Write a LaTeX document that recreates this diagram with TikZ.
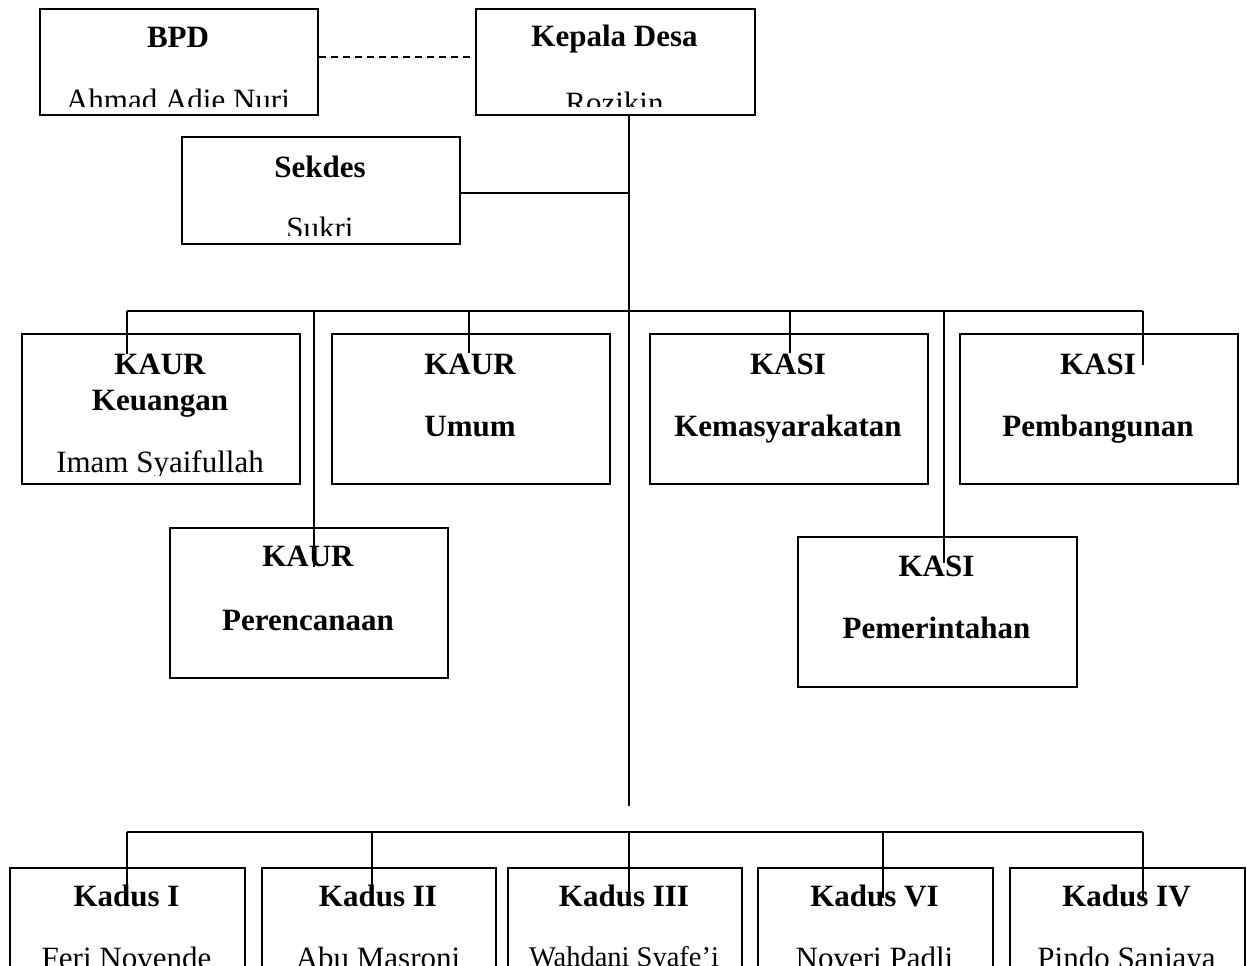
\documentclass[tikz,border=0pt]{standalone}
\usepackage{fontspec}
\setmainfont{Liberation Serif}
\usetikzlibrary{calc}
\begin{document}
\begin{tikzpicture}[x=1pt,y=-1pt,
  box/.style={draw, line width=2pt, inner sep=0pt, rectangle, anchor=north west},
  ttl/.style={font=\fontsize{31}{36}\selectfont\bfseries, anchor=base, inner sep=0pt},
  nm/.style={font=\fontsize{31}{36}\selectfont, anchor=base, inner sep=0pt},
  nmsmall/.style={font=\fontsize{28.5}{33}\selectfont, anchor=base, inner sep=0pt},
  conn/.style={line width=2pt},
  dline/.style={line width=2pt, dash pattern=on 7pt off 5pt}]
\useasboundingbox (0,0) rectangle (1247,966);
\clip (0,0) rectangle (1247,966);

% top boxes
\node[box, minimum width=278pt, minimum height=106pt] (bpd) at (39,8) {};
\node[box, minimum width=279pt, minimum height=106pt] (kades) at (475,8) {};
\node[box, minimum width=278pt, minimum height=107pt] (sekdes) at (181,136) {};
% middle boxes
\node[box, minimum width=278pt, minimum height=150pt] (keu) at (21,333) {};
\node[box, minimum width=278pt, minimum height=150pt] (umum) at (331,333) {};
\node[box, minimum width=278pt, minimum height=150pt] (kemas) at (649,333) {};
\node[box, minimum width=278pt, minimum height=150pt] (pemb) at (959,333) {};
\node[box, minimum width=278pt, minimum height=150pt] (peren) at (169,527) {};
\node[box, minimum width=279pt, minimum height=150pt] (pemer) at (797,536) {};
% bottom boxes
\node[box, minimum width=235pt, minimum height=150pt] (k1) at (9,867) {};
\node[box, minimum width=234pt, minimum height=150pt] (k2) at (261,867) {};
\node[box, minimum width=234pt, minimum height=150pt] (k3) at (507,867) {};
\node[box, minimum width=235pt, minimum height=150pt] (k6) at (757,867) {};
\node[box, minimum width=235pt, minimum height=150pt] (k4) at (1009,867) {};

% texts
\node[ttl] (bpdT) at (178,48) {BPD};
\begin{scope}
  \clip (bpd.north west) rectangle ([yshift=10pt]bpd.south east);
  \node[nm] (bpdN) at (178,110) {Ahmad Adie Nuri};
\end{scope}
\node[ttl] (kadesT) at (614.5,47) {Kepala Desa};
\begin{scope}
  \clip (kades.north west) rectangle ([yshift=10pt]kades.south east);
  \node[nm] (kadesN) at (614.5,113) {Rozikin};
\end{scope}
\node[ttl] (sekdesT) at (320,177) {Sekdes};
\begin{scope}
  \clip (sekdes.north west) rectangle ([yshift=10pt]sekdes.south east);
  \node[nm] (sekdesN) at (320,238.5) {Sukri};
\end{scope}

\node[ttl] (keuT1) at (160,374) {KAUR};
\node[ttl] (keuT2) at (160,410) {Keuangan};
\begin{scope}
  \clip (keu.north west) rectangle ([yshift=10pt]keu.south east);
  \node[nm] (keuN) at (160,472) {Imam Syaifullah};
\end{scope}
\node[ttl] (umumT1) at (470,374) {KAUR};
\node[ttl] (umumT2) at (470,436.5) {Umum};
\node[ttl] (kemasT1) at (788,374) {KASI};
\node[ttl] (kemasT2) at (788,436.5) {Kemasyarakatan};
\node[ttl] (pembT1) at (1098,374) {KASI};
\node[ttl] (pembT2) at (1098,436.5) {Pembangunan};
\node[ttl] (perenT1) at (308,566.5) {KAUR};
\node[ttl] (perenT2) at (308,630) {Perencanaan};
\node[ttl] (pemerT1) at (936.5,576) {KASI};
\node[ttl] (pemerT2) at (936.5,638) {Pemerintahan};

\node[ttl] (k1T) at (126.5,906.5) {Kadus I};
\node[nm] (k1N) at (126.5,968.5) {Feri Novende};
\node[ttl] (k2T) at (378,906.5) {Kadus II};
\node[nm] (k2N) at (378,968.5) {Abu Masroni};
\node[ttl] (k3T) at (624,906.5) {Kadus III};
\node[nmsmall] (k3N) at (624,966) {Wahdani Syafe’i};
\node[ttl] (k6T) at (874.5,906.5) {Kadus VI};
\node[nm] (k6N) at (874.5,968.5) {Noveri Padli};
\node[ttl] (k4T) at (1126.5,906.5) {Kadus IV};
\node[nm] (k4N) at (1126.5,968.5) {Pindo Sanjaya};

% connectors
\draw[dline] ([yshift=5pt]bpd.east) -- ([yshift=5pt]kades.west);
\coordinate (tk) at (629,806);
\draw[conn] (kades.south -| tk) -- (tk);
\draw[conn] ([yshift=-2pt]sekdes.east) -- ([yshift=-2pt]sekdes.east -| tk);

\coordinate (busL) at (127,311);
\coordinate (busR) at (1143,311);
\draw[conn] (busL) -- (busR);
\coordinate (bKeu) at (127,354);
\coordinate (bPeren) at (314,567);
\coordinate (bUmum) at (469,353);
\coordinate (bKemas) at (790,353);
\coordinate (bPemer) at (944,563);
\coordinate (bPemb) at (1143,365);
\foreach \c in {bKeu,bPeren,bUmum,bKemas,bPemer,bPemb}
  \draw[conn] (\c |- busL) -- (\c);

\coordinate (bbL) at (127,832);
\coordinate (bbR) at (1143,832);
\draw[conn] (bbL) -- (bbR);
\coordinate (bK1) at (127,892);
\coordinate (bK2) at (371.5,888);
\coordinate (bK3) at (629,900);
\coordinate (bK6) at (883,898);
\coordinate (bK4) at (1143,898);
\foreach \c in {bK1,bK2,bK3,bK6,bK4}
  \draw[conn] (\c |- bbL) -- (\c);
\end{tikzpicture}
\end{document}
